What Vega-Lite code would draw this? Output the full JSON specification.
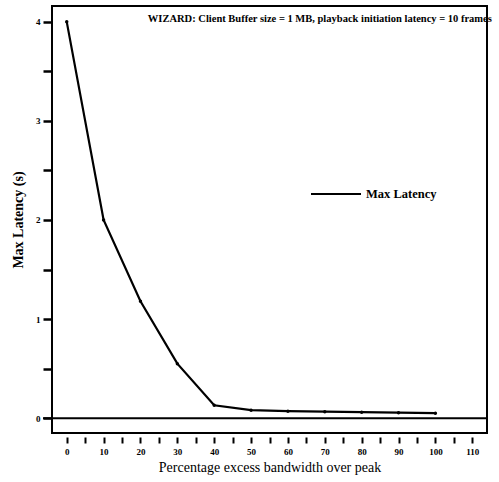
{
  "$schema": "https://vega.github.io/schema/vega-lite/v6.json",
  "width": 435,
  "height": 427,
  "autosize": "none",
  "padding": {"left": 52, "top": 6, "right": 12, "bottom": 49},
  "background": "white",
  "config": {
    "view": {"stroke": "black", "strokeWidth": 2},
    "font": "Liberation Serif"
  },
  "datasets": {
    "series": [
      {"pct": 0, "latency": 4.0, "series": "Max Latency"},
      {"pct": 10, "latency": 2.0, "series": "Max Latency"},
      {"pct": 20, "latency": 1.18, "series": "Max Latency"},
      {"pct": 30, "latency": 0.55, "series": "Max Latency"},
      {"pct": 40, "latency": 0.13, "series": "Max Latency"},
      {"pct": 50, "latency": 0.08, "series": "Max Latency"},
      {"pct": 60, "latency": 0.07, "series": "Max Latency"},
      {"pct": 70, "latency": 0.065, "series": "Max Latency"},
      {"pct": 80, "latency": 0.06, "series": "Max Latency"},
      {"pct": 90, "latency": 0.055, "series": "Max Latency"},
      {"pct": 100, "latency": 0.05, "series": "Max Latency"}
    ],
    "note": [
      {"pct": 22, "latency": 4.03, "label": "WIZARD: Client Buffer size = 1 MB, playback initiation latency = 10 frames"}
    ],
    "zero": [{"latency": 0}]
  },
  "encoding": {
    "x": {
      "field": "pct", "type": "quantitative",
      "scale": {"domain": [-4, 114], "nice": false, "zero": false},
      "axis": {
        "title": "Percentage excess bandwidth over peak",
        "titleFont": "Liberation Serif", "titleFontSize": 14, "titleFontWeight": "normal", "titleColor": "black",
        "titlePadding": 4,
        "values": [0,5,10,15,20,25,30,35,40,45,50,55,60,65,70,75,80,85,90,95,100,105,110],
        "labelExpr": "datum.value % 10 == 0 ? datum.label : ''",
        "labelFont": "Liberation Serif", "labelFontSize": 9, "labelFontWeight": "bold", "labelColor": "black",
        "labelPadding": 4,
        "offset": 4, "domain": false, "grid": false,
        "tickColor": "black", "tickWidth": 2, "tickSize": 6
      }
    },
    "y": {
      "field": "latency", "type": "quantitative",
      "scale": {"domain": [-0.15, 4.16], "nice": false, "zero": false},
      "axis": {
        "title": "Max Latency (s)",
        "titleFont": "Liberation Serif", "titleFontSize": 14, "titleFontWeight": "bold", "titleColor": "black",
        "titlePadding": 10,
        "values": [0,0.5,1,1.5,2,2.5,3,3.5,4],
        "labelExpr": "datum.value % 1 == 0 ? format(datum.value, 'd') : ''",
        "labelFont": "Liberation Serif", "labelFontSize": 9, "labelFontWeight": "bold", "labelColor": "black",
        "labelPadding": 3,
        "offset": 1, "domain": false, "grid": false, "zindex": 2,
        "ticks": true, "tickColor": "#000000", "tickOpacity": 1, "tickWidth": 2.5, "tickSize": 8
      }
    }
  },
  "layer": [
    {
      "data": {"name": "series"},
      "mark": {"type": "line", "strokeWidth": 2.2},
      "encoding": {
        "color": {
          "field": "series", "type": "nominal",
          "scale": {"range": ["black"]},
          "legend": {
            "title": null, "orient": "none", "legendX": 258, "legendY": 162,
            "symbolType": "stroke", "symbolSize": 2500, "symbolStrokeWidth": 2,
            "labelFont": "Liberation Serif", "labelFontSize": 12.5, "labelFontWeight": "bold", "labelColor": "black"
          }
        }
      }
    },
    {
      "data": {"name": "series"},
      "mark": {"type": "point", "filled": true, "color": "black", "size": 12, "opacity": 1}
    },
    {
      "data": {"name": "zero"},
      "mark": {"type": "rule", "color": "black", "strokeWidth": 2},
      "encoding": {"x": {"value": -9}, "x2": {"value": 435}}
    },
    {
      "data": {"name": "note"},
      "mark": {"type": "text", "align": "left", "baseline": "middle", "font": "Liberation Serif", "fontSize": 10.5, "fontWeight": "bold", "color": "black"},
      "encoding": {"text": {"field": "label"}}
    }
  ]
}
